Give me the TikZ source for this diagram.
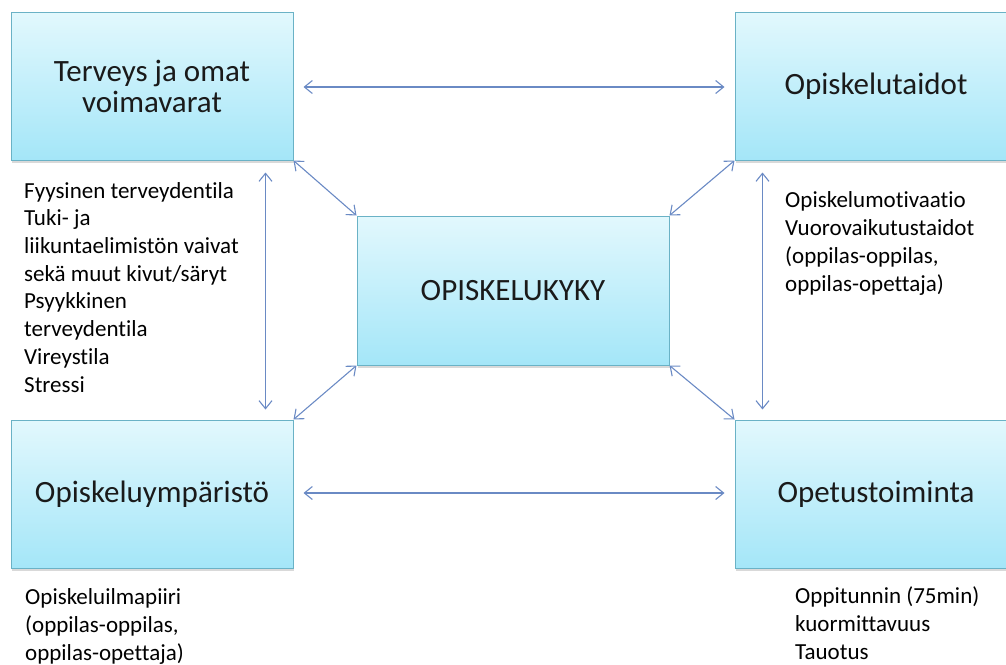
\documentclass[tikz,border=0pt]{standalone}
\usepackage{fontspec}
\setmainfont{Carlito}[RawFeature=-liga]
\usetikzlibrary{arrows.meta,calc,shadows}
\definecolor{boxtop}{HTML}{E2F8FD}
\definecolor{boxbot}{HTML}{A4E6F8}
\definecolor{boxline}{HTML}{6AB2C6}
\definecolor{arr}{HTML}{6A8AC4}
\definecolor{txt}{HTML}{1A1A1A}
\tikzset{
  box/.style={draw=boxline, line width=1pt, top color=boxtop, bottom color=boxbot,
    minimum width=282pt, minimum height=148pt, inner sep=0pt, align=center,
    font=\fontsize{31}{31}\selectfont, text=txt,
    drop shadow={shadow xshift=1pt,shadow yshift=-2.5pt,opacity=0.3}},
  note/.style={anchor=base west, inner sep=0pt, align=left, text=black,
    font=\fontsize{23}{27.7}\selectfont},
  conn/.style={draw=arr, line width=1.1pt,
    {Straight Barb[length=8pt,width=13pt]}-{Straight Barb[length=8pt,width=13pt]}}
}
\begin{document}
\begin{tikzpicture}[x=1pt,y=-1pt]
\useasboundingbox (0,0) rectangle (1006,664);
\clip (0,0) rectangle (1006,664);
\node[box] (tl) at (152,86) {Terveys ja omat\\voimavarat};
\node[box] (tr) at (876,86) {Opiskelutaidot};
\node[box, minimum width=312pt, minimum height=149pt] (c) at (513,290.5) {OPISKELUKYKY};
\node[box] (bl) at (152,494) {Opiskeluympäristö};
\node[box] (br) at (876,494) {Opetustoiminta};

\draw[conn] ($(tl.east)+(10,1)$) -- ($(tr.west)+(-10,1)$);
\draw[conn] ($(bl.east)+(10,-1)$) -- ($(br.west)+(-10,-1)$);
\draw[conn] ($(tl.south east)+(-28,12)$) -- ($(bl.north east)+(-28,-10)$);
\draw[conn] ($(tr.south west)+(28,12)$) -- ($(br.north west)+(28,-10)$);
\draw[conn] (tl.south east) -- (c.north west);
\draw[conn] (tr.south west) -- (c.north east);
\draw[conn] (bl.north east) -- (c.south west);
\draw[conn] (br.north west) -- (c.south east);

% base anchor of a multi-line node = baseline of its last line
\node[note] (n1) at (24,392) {Fyysinen terveydentila\\Tuki- ja\\liikuntaelimistön vaivat\\sekä muut kivut/säryt\\Psyykkinen\\terveydentila\\Vireystila\\Stressi};
\node[note] (n2) at (785,291) {Opiskelumotivaatio\\Vuorovaikutustaidot\\(oppilas-oppilas,\\oppilas-opettaja)};
\node[note] (n3) at (25,660) {Opiskeluilmapiiri\\(oppilas-oppilas,\\oppilas-opettaja)};
\node[note] (n4) at (795,659) {Oppitunnin (75min)\\kuormittavuus\\Tauotus};
\end{tikzpicture}
\end{document}
